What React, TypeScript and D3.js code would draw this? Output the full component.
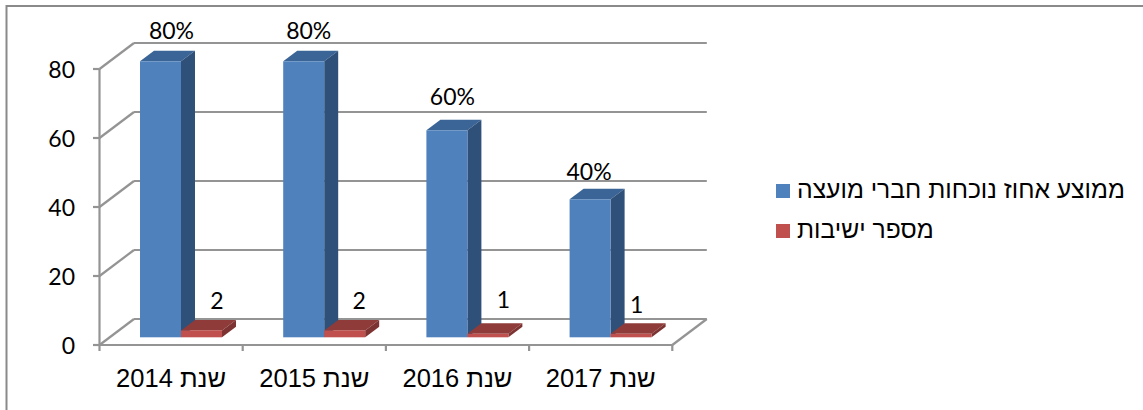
import React from "react";
import * as d3 from "d3";

const categories = ["שנת 2014", "שנת 2015", "שנת 2016", "שנת 2017"];
const attendance = [80, 80, 60, 40];
const attendanceLabels = ["80%", "80%", "60%", "40%"];
const meetings = [2, 2, 1, 1];
const yTicks = [0, 20, 40, 60, 80];
const legendItems = ["ממוצע אחוז נוכחות חברי מועצה", "מספר ישיבות"];

const W = 1143, H = 410;
const DX = 34.5, DY = 26;
const BDX = 14, BDY = 10.5;
const NUM = 'Lato,"Open Sans",sans-serif';
const HEB = '"Liberation Sans",Arial,sans-serif';
const GRID = "#949494";
// hand-placed label nudges, as in the reference
const pctDx = [31.5, 25.5, 26, 19.5];
const pctDy = [-22.7, -22.7, -25.2, -19.7];
const cntDx = [36, 35, 36, 26];
const cntDy = [-21, -21, -26, -21];

function Bar({ x, w, y0, y1, front, top, side }: any) {
  return (
    <g>
      <polygon points={`${x},${y1} ${x + BDX},${y1 - BDY} ${x + w + BDX},${y1 - BDY} ${x + w},${y1}`} fill={top} />
      <polygon points={`${x + w},${y1} ${x + w + BDX},${y1 - BDY} ${x + w + BDX},${y0 - BDY} ${x + w},${y0}`} fill={side} />
      <rect x={x} y={y1} width={w} height={y0 - y1} fill={front} />
    </g>
  );
}

export default function App() {
  const x = d3.scaleBand<string>().domain(categories).range([99.5, 672.3]);
  const y = d3.scaleLinear().domain([0, 80]).range([345, 69]);
  const step = x.step();
  const barW = 41;
  const barOff = 40.5;
  const baseY = y(0) - 7.7;
  const h = (v: number) => (y(0) - y(v));
  return (
    <svg width={W} height={H} viewBox={`0 0 ${W} ${H}`} style={{ position: "absolute", left: 0, top: 0, background: "#fff" }}>
      <path d={`M${W},6H6.5V${H}`} fill="none" stroke="#8a8a8a" strokeWidth={2} />
      {yTicks.map((t) => (
        <g key={t} stroke={GRID} strokeWidth={2.2} fill="none">
          <path d={`M${x.range()[0] + DX},${y(t) - DY}H${x.range()[1] + DX}`} />
          <path d={`M${x.range()[0]},${y(t)}L${x.range()[0] + DX},${y(t) - DY}`} />
          <path d={`M93,${y(t)}H${x.range()[0]}`} />
        </g>
      ))}
      <g stroke={GRID} strokeWidth={2.2} fill="none">
        <path d={`M${x.range()[0]},${y(80)}V${y(0) + 6}`} />
        <path d={`M${x.range()[0]},${y(0)}H${x.range()[1]}`} />
        <path d={`M${x.range()[1]},${y(0)}L${x.range()[1] + DX},${y(0) - DY}`} />
        {categories.map((c) => (
          <path key={c} d={`M${x(c)! + step},${y(0)}v6`} />
        ))}
      </g>
      {categories.map((c, i) => {
        const bx = x(c)! + barOff;
        return (
          <g key={c}>
            <Bar x={bx} w={barW} y0={baseY} y1={baseY - h(attendance[i])} front="#4f81bd" top="#3b6596" side="#2f5079" />
            <Bar x={bx + barW} w={barW} y0={baseY} y1={baseY - h(meetings[i])} front="#c0504d" top="#8f3b39" side="#7d3331" />
            <text x={bx + pctDx[i]} y={baseY - h(attendance[i]) + pctDy[i]} textAnchor="middle" fontFamily={NUM} fontSize={23} fill="#000">{attendanceLabels[i]}</text>
            <text x={bx + barW + cntDx[i]} y={baseY - h(meetings[i]) + cntDy[i]} textAnchor="middle" fontFamily={NUM} fontSize={23} fill="#000">{meetings[i]}</text>
            <text x={x(c)! + step / 2} y={387} textAnchor="middle" fontFamily={HEB} fontSize={25.5} fill="#000">{c}</text>
          </g>
        );
      })}
      {yTicks.map((t) => (
        <text key={t} x={75} y={y(t) + 8.7} textAnchor="end" fontFamily={NUM} fontSize={23} fill="#000">{t}</text>
      ))}
      {legendItems.map((l, i) => (
        <g key={l}>
          <rect x={776} y={184 + i * 40} width={14} height={14} fill={i === 0 ? "#4f81bd" : "#c0504d"} />
          <text x={797} y={198 + i * 40} fontFamily={HEB} fontSize={24.7} fill="#000">{l}</text>
        </g>
      ))}
    </svg>
  );
}
